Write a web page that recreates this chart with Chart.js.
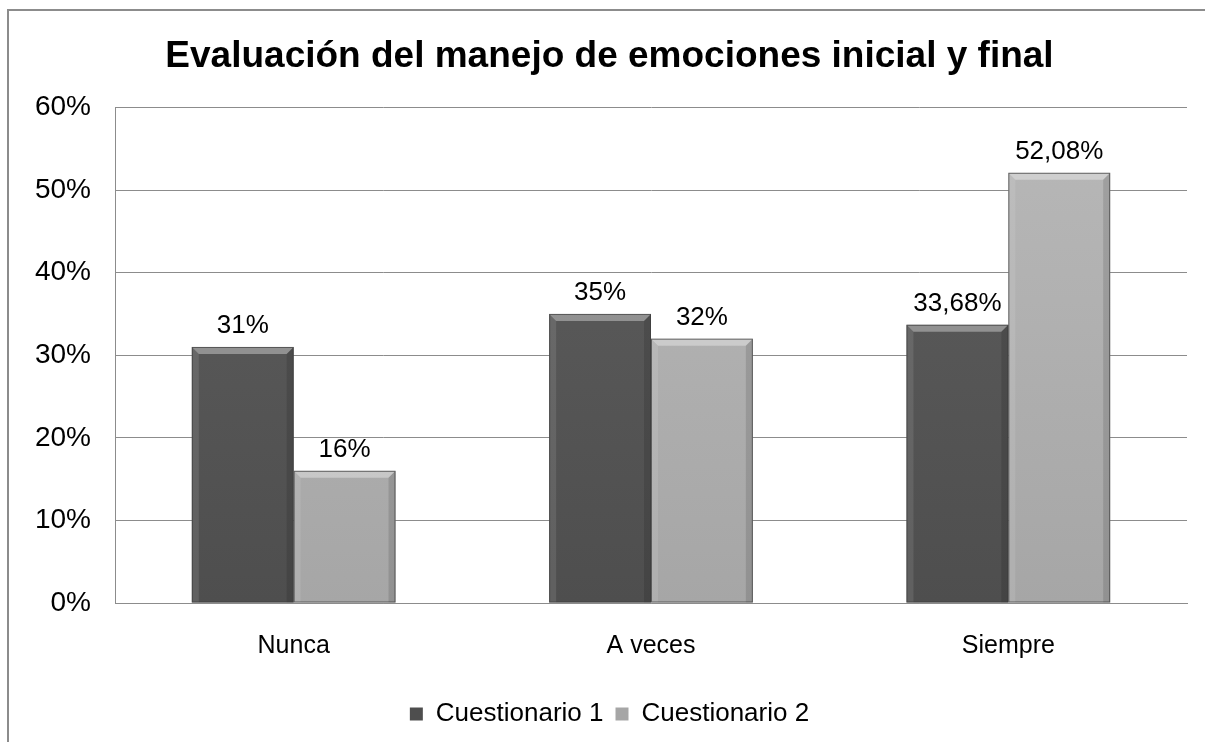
<!DOCTYPE html>
<html>
<head>
<meta charset="utf-8">
<script src="https://cdn.jsdelivr.net/npm/chart.js@4/dist/chart.umd.min.js"></script>
<style>
  html, body { margin: 0; padding: 0; background: #fff; }
  #wrap { width: 1205px; height: 742px; position: relative; }
</style>
</head>
<body>
<div id="wrap"><canvas id="c" width="1205" height="742"></canvas></div>
<script>
const categories = ['Nunca', 'A veces', 'Siempre']
const cuestionario1 = [31, 35, 33.68]
const cuestionario2 = [16, 32, 52.08]
const labels1 = ['31%', '35%', '33,68%']
const labels2 = ['16%', '32%', '52,08%']
const FONT = '"Liberation Sans", Arial, sans-serif'

// outer frame of the picture
const framePlugin = {
  id: 'frame',
  beforeDraw(chart) {
    const ctx = chart.ctx
    ctx.save()
    ctx.strokeStyle = '#8c8c8c'
    ctx.lineWidth = 2
    ctx.beginPath()
    ctx.moveTo(8, chart.height + 5)
    ctx.lineTo(8, 10)
    ctx.lineTo(chart.width + 5, 10)
    ctx.stroke()
    ctx.restore()
  }
}

// bevel edges + value labels on each bar
const bevelPlugin = {
  id: 'bevel',
  afterDatasetsDraw(chart) {
    const ctx = chart.ctx
    chart.data.datasets.forEach((ds, di) => {
      const meta = chart.getDatasetMeta(di)
      meta.data.forEach((bar, i) => {
        const { x, y, base, width } = bar
        const l = x - width / 2, r = x + width / 2, b = 7
        ctx.save()
        // top highlight
        ctx.fillStyle = 'rgba(255,255,255,0.35)'
        ctx.beginPath()
        ctx.moveTo(l, y); ctx.lineTo(r, y); ctx.lineTo(r - b, y + b); ctx.lineTo(l + b, y + b)
        ctx.fill()
        // sides
        ctx.fillStyle = 'rgba(0,0,0,0.12)'
        ctx.beginPath()
        ctx.moveTo(r, y); ctx.lineTo(r, base); ctx.lineTo(r - b, base); ctx.lineTo(r - b, y + b)
        ctx.fill()
        ctx.fillStyle = 'rgba(255,255,255,0.1)'
        ctx.beginPath()
        ctx.moveTo(l, y); ctx.lineTo(l, base); ctx.lineTo(l + b, base); ctx.lineTo(l + b, y + b)
        ctx.fill()
        ctx.strokeStyle = 'rgba(60,60,60,0.7)'
        ctx.lineWidth = 1
        ctx.strokeRect(l + 0.5, y + 0.5, width - 1, base - y - 1)
        // value label
        ctx.fillStyle = '#000'
        ctx.font = '26px ' + FONT
        ctx.textAlign = 'center'
        ctx.textBaseline = 'bottom'
        ctx.fillText(ds.valueLabels[i], x, y - 8)
        ctx.restore()
      })
    })
  }
}

const ctx = document.getElementById('c').getContext('2d')

function barGradient(c1, c2) {
  const g = ctx.createLinearGradient(0, 107, 0, 603)
  g.addColorStop(0, c1)
  g.addColorStop(1, c2)
  return g
}

new Chart(ctx, {
  type: 'bar',
  data: {
    labels: categories,
    datasets: [
      {
        label: 'Cuestionario 1',
        data: cuestionario1,
        valueLabels: labels1,
        backgroundColor: barGradient('#5e5e5e', '#4e4e4e'),
        borderWidth: 0
      },
      {
        label: 'Cuestionario 2',
        data: cuestionario2,
        valueLabels: labels2,
        backgroundColor: barGradient('#b8b8b8', '#a6a6a6'),
        borderWidth: 0
      }
    ]
  },
  options: {
    responsive: false,
    animation: false,
    devicePixelRatio: 1,
    categoryPercentage: 0.57,
    barPercentage: 1.0,
    layout: { padding: { left: 32, right: 18, top: 35, bottom: 5 } },
    plugins: {
      title: {
        display: true,
        text: 'Evaluación del manejo de emociones inicial y final',
        color: '#000',
        font: { family: FONT, size: 37, weight: 'bold' },
        padding: { top: 0, bottom: 28 }
      },
      legend: {
        position: 'bottom',
        labels: {
          color: '#000',
          font: { family: FONT, size: 26 },
          boxWidth: 13,
          boxHeight: 13,
          padding: 12
        }
      },
      tooltip: { enabled: false }
    },
    scales: {
      y: {
        min: 0,
        max: 60,
        ticks: {
          stepSize: 10,
          color: '#000',
          font: { family: FONT, size: 28 },
          padding: 24,
          callback: v => v + '%'
        },
        grid: { color: '#8c8c8c', drawTicks: false },
        border: { color: '#8c8c8c' },
        afterFit(scale) { scale.width = 83 }
      },
      x: {
        ticks: {
          color: '#000',
          font: { family: FONT, size: 25 },
          padding: 28
        },
        grid: { display: false, drawTicks: false },
        border: { color: '#8c8c8c' }
      }
    }
  },
  plugins: [framePlugin, bevelPlugin]
})
</script>
</body>
</html>
